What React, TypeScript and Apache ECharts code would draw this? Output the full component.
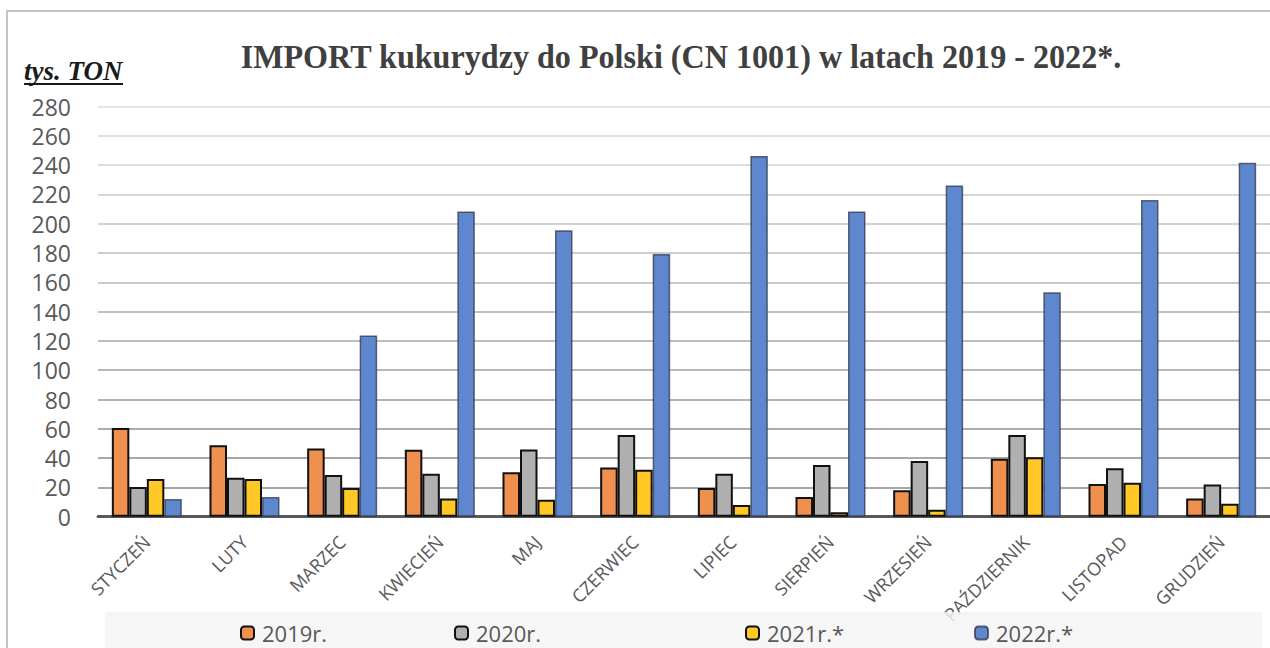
import React, { useEffect, useRef } from "react";
import * as echarts from "echarts";

const months = [
  "STYCZEŃ", "LUTY", "MARZEC", "KWIECIEŃ", "MAJ", "CZERWIEC",
  "LIPIEC", "SIERPIEŃ", "WRZESIEŃ", "PAŹDZIERNIK", "LISTOPAD", "GRUDZIEŃ",
];
const seriesNames = ["2019r.", "2020r.", "2021r.*", "2022r.*"];
const v2019 = [60.5, 48.7, 46.6, 45.7, 30.3, 33.5, 19.6, 13.4, 18, 39.6, 22.3, 12.5];
const v2020 = [20.3, 26.6, 28.5, 29.4, 45.8, 55.8, 29.4, 35.3, 38, 55.8, 33, 22];
const v2021 = [25.7, 25.7, 19.6, 12.5, 11.6, 32.1, 8, 3, 4.8, 40.5, 23.2, 8.9];
const v2022 = [12, 13.4, 123.7, 208.4, 195.5, 179.3, 246.2, 208.4, 226, 153.2, 216.1, 241.6];
const yMin = 0;
const yMax = 280;
const yStep = 20;

const colors = ["#F0904F", "#B0B0B0", "#FFC826", "#5F87CF"];
const borders = ["#111111", "#111111", "#111111", "rgba(45,55,75,0.75)"];
const gridColors = [
  "#9a9a9a", "#a6a6a6", "#a8a8a8", "#acacac", "#b3b3b3", "#b8b8b8", "#bdbdbd",
  "#c3c3c3", "#c8c8c8", "#cdcdcd", "#d2d2d2", "#d7d7d7", "#dcdcdc", "#e0e0e0", "#e4e4e4",
];
const legendLefts = [240, 454, 745, 974];

export default function App() {
  const ref = useRef<HTMLDivElement>(null);
  useEffect(() => {
    if (!ref.current) return;
    const chart = echarts.init(ref.current, null, { renderer: "svg" });
    const data = [v2019, v2020, v2021, v2022];
    const option: any = {
      animation: false,
      backgroundColor: "#ffffff",
      grid: { left: 98, top: 106.5, width: 1175, height: 410.2, containLabel: false },
      xAxis: {
        type: "category",
        data: months,
        axisLine: { lineStyle: { color: "#595959", width: 3 } },
        axisTick: { show: false },
        axisLabel: {
          rotate: 45,
          interval: 0,
          margin: 22,
          color: "#595959",
          fontSize: 18,
          fontFamily: "Open Sans",
        },
        z: 1,
      },
      yAxis: {
        type: "value",
        min: yMin,
        max: yMax,
        interval: yStep,
        axisLine: { show: false },
        axisTick: { show: false },
        axisLabel: {
          color: "#595959",
          fontSize: 23,
          lineHeight: 24,
          fontFamily: "Open Sans",
          margin: 27,
        },
        splitLine: { lineStyle: { color: gridColors, width: 2 } },
      },
      legend: seriesNames.map((n, i) => ({
        data: [n],
        left: legendLefts[i],
        top: 622,
        itemWidth: 13,
        itemHeight: 13,
        itemGap: 6,
        padding: 0,
        z: 10,
        textStyle: { color: "#595959", fontSize: 22, fontFamily: "Open Sans", padding: [0, 0, 0, 3] },
      })),
      graphic: [
        {
          type: "polyline",
          shape: { points: [[1300, 11], [7, 11], [7, 700]] },
          style: { stroke: "#c4c4c4", lineWidth: 2, fill: null },
          silent: true,
        },
        {
          type: "rect",
          shape: { x: 105, y: 612, width: 1157, height: 60 },
          style: { fill: "rgba(244,244,244,0.82)" },
          z: 5,
          silent: true,
        },
        {
          type: "text",
          x: 681,
          y: 40,
          scaleX: 0.945,
          style: {
            text: "IMPORT kukurydzy do Polski (CN 1001) w latach 2019 - 2022*.",
            font: 'bold 34px "Liberation Serif"',
            fill: "#404040",
            textAlign: "center",
          },
        },
        {
          type: "text",
          x: 24,
          y: 57,
          style: {
            text: "tys. TON",
            font: 'italic bold 27px "Liberation Serif"',
            fill: "#1a1a1a",
          },
        },
        {
          type: "line",
          shape: { x1: 24, y1: 84, x2: 123, y2: 84 },
          style: { stroke: "#1a1a1a", lineWidth: 2 },
        },
      ],
      series: seriesNames.map((n, i) => ({
        name: n,
        type: "bar",
        data: data[i],
        barWidth: 17.5,
        barGap: "0%",
        itemStyle: {
          color: colors[i],
          borderColor: borders[i],
          borderWidth: i === 3 ? 1.5 : 2,
        },
        z: 2,
      })),
    };
    chart.setOption(option);
    return () => chart.dispose();
  }, []);
  return (
    <div
      ref={ref}
      style={{ position: "fixed", left: 0, top: 0, width: 1270, height: 648 }}
    />
  );
}
